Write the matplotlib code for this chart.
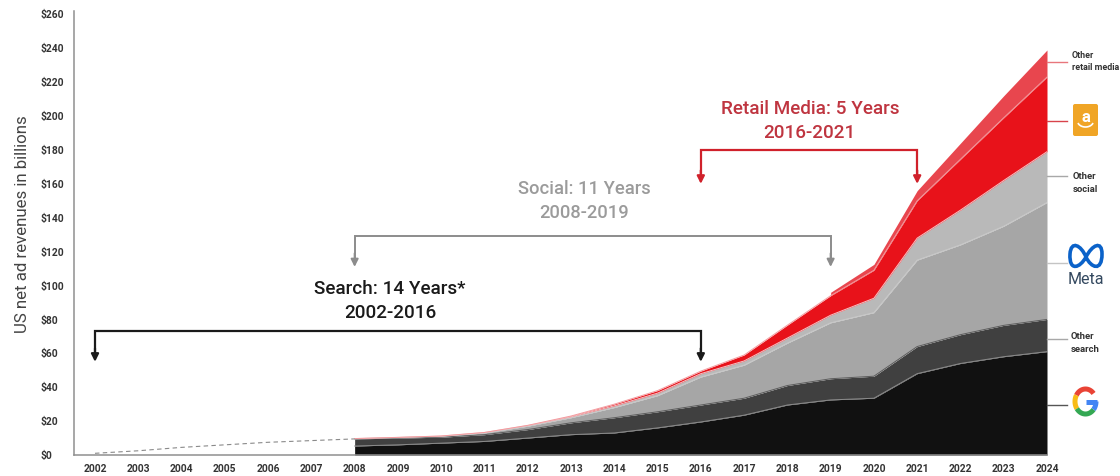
import numpy as np
import matplotlib
matplotlib.use("Agg")
import matplotlib.pyplot as plt
from matplotlib.patches import FancyBboxPatch, PathPatch
from matplotlib.path import Path

plt.rcParams["font.family"] = ["Roboto", "DejaVu Sans"]

years = list(range(2008, 2025))
early_years = [2002, 2003, 2004, 2005, 2006, 2007, 2008]
early_search = [1, 2.5, 4.5, 6, 7.5, 8.5, 9.5]

# running totals of the stack, read bottom to top
google_top = [5.3, 6, 7, 8, 10, 12, 13, 16, 19.5, 23.5, 29.5, 32.5, 33.5, 48, 54, 58, 61]
other_search_top = [9.5, 10, 10.5, 12, 15, 19, 22, 25.5, 29.5, 33.5, 41, 45, 46.5, 64, 71, 76.5, 80]
meta_top = [9.6, 10.3, 11, 13, 17, 22, 28, 35, 46, 53, 66, 78, 84, 115, 124, 135, 149]
other_social_top = [9.7, 10.4, 11.2, 13.3, 17.4, 22.5, 29, 36.5, 48, 55.5, 69, 82.5, 92.5, 128, 144.5, 162, 179]
amazon_top = [9.7, 10.4, 11.2, 13.3, 17.5, 23, 30, 38, 49.5, 59, 76.6, 94, 109, 150, 174.5, 199, 223]

# other retail only starts in 2019, which leaves a small step in the outline
retail_years = [2019, 2020, 2021, 2022, 2023, 2024]
retail_amazon = [94, 109, 150, 174.5, 199, 223]
other_retail_top = [96, 112.5, 156, 184, 212, 239]

layer_colors = ["#111111", "#404040", "#a6a6a6", "#b9b9b9", "#e8121a"]
seam_colors = ["#8c8c8c", "#5c5c5c", "#c9c9c9", "#f2c4c6", "#f39a9e"]
retail_color = "#e8464e"

y_ticks = list(range(0, 261, 20))
y_labels = [f"${v}" for v in y_ticks]
x_ticks = list(range(2002, 2025))

W, H = 1120, 476
fig = plt.figure(figsize=(W / 100, H / 100), dpi=100)
x_left, x_right, y_bottom, y_top = 74, 1047, 455, 11
ax = fig.add_axes([x_left / W, 1 - y_bottom / H, (x_right - x_left) / W, (y_bottom - y_top) / H])

tops = [google_top, other_search_top, meta_top, other_social_top, amazon_top]
lower = np.zeros(len(years))
for top, color, seam in zip(tops, layer_colors, seam_colors):
    top = np.array(top)
    ax.fill_between(years, lower, top, color=color, linewidth=0)
    ax.plot(years, top, color=seam, lw=0.7)
    lower = top
ax.fill_between(retail_years, retail_amazon, other_retail_top, color=retail_color, linewidth=0)

ax.plot(early_years, early_search, color="#8a8a8a", lw=0.8, ls=(0, (4, 3)))

ax.set_xlim(2002 - 21 / 43.27, 2024)
ax.set_ylim(0, 262)
for side in ["top", "right"]:
    ax.spines[side].set_visible(False)
for side in ["left", "bottom"]:
    ax.spines[side].set_color("#8f8f8f")
    ax.spines[side].set_linewidth(1.1)

ax.set_yticks(y_ticks, y_labels, fontsize=7.4, fontweight="bold", color="#333333", ha="left")
ax.set_xticks(x_ticks, x_ticks, fontsize=7.4, fontweight="bold", color="#333333")
ax.tick_params(axis="both", length=0)
ax.tick_params(axis="y", pad=24)
ax.tick_params(axis="x", pad=6.5)
ax.set_ylabel("US net ad revenues in billions", fontsize=12.2, color="#444444")
ax.yaxis.set_label_coords(-44 / (x_right - x_left), 0.52)


# bracket with a drop arrow at each end
def bracket(x0, x1, level, tip, color, lw):
    ax.plot([x0, x0, x1, x1], [tip + 6, level, level, tip + 6], color=color, lw=lw, solid_joinstyle="miter")
    for x in (x0, x1):
        ax.annotate("", xy=(x, tip), xytext=(x, tip + 8),
                    arrowprops=dict(arrowstyle="-|>", color=color, lw=lw, mutation_scale=11, shrinkA=0, shrinkB=0))


bracket(2002, 2016, 73, 55, "#1a1a1a", 1.6)
bracket(2008, 2019, 129, 111, "#8c8c8c", 1.4)
bracket(2016, 2021, 180, 160, "#d0212b", 1.6)

ax.text(2008.82, 91, "Search: 14 Years*\n2002-2016", ha="center", va="center", fontsize=13.6,
        fontweight="medium", color="#1a1a1a", linespacing=1.42)
ax.text(2013.3, 150, "Social: 11 Years\n2008-2019", ha="center", va="center", fontsize=13.2,
        fontweight="medium", color="#9b9b9b", linespacing=1.45)
ax.text(2018.52, 197, "Retail Media: 5 Years\n2016-2021", ha="center", va="center", fontsize=13.6,
        fontweight="medium", color="#bf3540", linespacing=1.42)

# right-hand key, laid out in pixels
key = fig.add_axes([0, 0, 1, 1], zorder=5)
key.set_xlim(0, W)
key.set_ylim(H, 0)
key.axis("off")

for y, color in [(62, "#e8767c"), (121, "#d8434b"), (176, "#a8a8a8"), (263, "#c4c4c4"), (339, "#a8a8a8"), (405, "#555555")]:
    key.plot([1047, 1067], [y, y], color=color, lw=1)

key.text(1072, 61.5, "Other\nretail media", fontsize=6.4, fontweight="bold", color="#333333",
         ha="left", va="center", linespacing=1.55)
key.text(1073, 183, "Other\nsocial", fontsize=6.8, fontweight="bold", color="#333333",
         ha="left", va="center", linespacing=1.45)
key.text(1071, 343, "Other\nsearch", fontsize=6.8, fontweight="bold", color="#333333",
         ha="left", va="center", linespacing=1.45)

# Amazon tile
key.add_patch(FancyBboxPatch((1075, 106), 21, 28, boxstyle="round,pad=2", facecolor="#f0a526", edgecolor="none"))
key.text(1085.5, 118, "a", fontsize=12, fontweight="bold", color="white", ha="center", va="center")
smile = np.linspace(0.15, 0.85, 20) * np.pi
key.plot(1085.5 + 8 * np.cos(smile), 121 + 6 * np.sin(smile), color="white", lw=1.2)

# Meta mark and wordmark
meta_path = Path(
    [(1086, 257), (1081, 245), (1071, 240), (1070, 254), (1069, 272), (1080, 268), (1086, 257),
     (1092, 245), (1102, 240), (1102, 254), (1102, 272), (1091, 268), (1086, 257)],
    [Path.MOVETO] + [Path.CURVE4] * 12,
)
key.add_patch(PathPatch(meta_path, facecolor="none", edgecolor="#0b62c9", lw=2.6))
key.text(1085.5, 280, "Meta", fontsize=11.5, color="#33485f", ha="center", va="center")


# Google G, built from coloured arc segments
def g_arc(a0, a1, color):
    t = np.radians(np.linspace(a0, a1, 30))
    key.plot(1085.5 + 10.5 * np.cos(t), 401.5 - 12.5 * np.sin(t), color=color, lw=3.6, solid_capstyle="butt")


g_arc(40, 150, "#e94335")
g_arc(150, 215, "#f8bb15")
g_arc(215, 320, "#34a853")
g_arc(320, 360, "#4285f4")
key.plot([1086, 1097], [401.5, 401.5], color="#4285f4", lw=3.6, solid_capstyle="butt")

fig.savefig("out.png", dpi=100)
